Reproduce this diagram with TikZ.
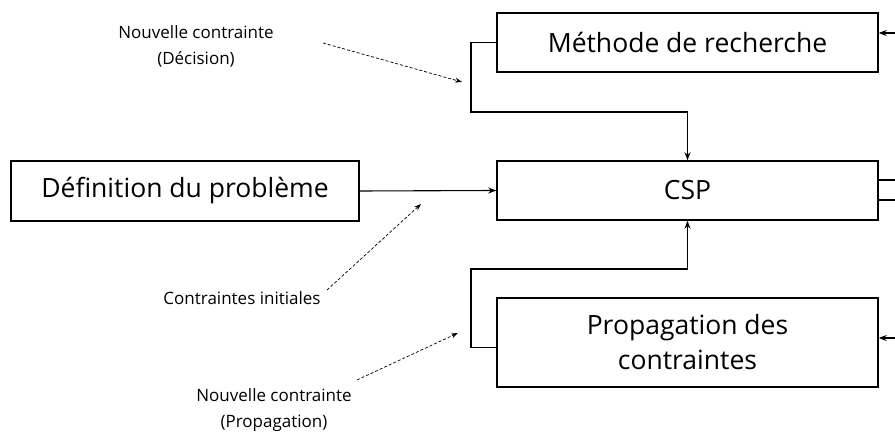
\documentclass[tikz,border=0pt]{standalone}
\usepackage{fontspec}
\setmainfont{Open Sans}
\usetikzlibrary{arrows.meta}
\begin{document}
\begin{tikzpicture}[x=1pt,y=-1pt,
  box/.style={draw,line width=1.5pt,inner sep=0pt,align=center,font=\fontsize{26.5}{35}\selectfont},
  conn/.style={line width=1.1pt},
  arr/.style={conn,-{Stealth[length=8pt,width=6pt]}},
  darr/.style={line width=0.7pt,dash pattern=on 3pt off 2pt,-{Stealth[length=7pt,width=5pt]}},
  lab/.style={align=center,inner sep=0pt,font=\fontsize{17}{26}\selectfont}]
\useasboundingbox (0,0) rectangle (895,435);
\node[box,minimum width=381pt,minimum height=59pt] (meth) at (687.5,42.5) {Méthode de recherche};
\node[box,minimum width=381pt,minimum height=59pt] (csp) at (687.5,190.5) {CSP};
\node[box,minimum width=381pt,minimum height=89pt] (prop) at (687.5,342.5) {Propagation des\\contraintes};
\node[box,minimum width=348pt,minimum height=60pt] (def) at (185,191) {Définition du problème};
% loops
\coordinate (k1) at (471,112);
\coordinate (k2) at (471,269);
\draw[arr] (meth.west) -| (k1) -| (csp.north);
\draw[arr] ([yshift=-5pt]prop.west) -| (k2) -| (csp.south);
\draw[arr] (def.east) -- (csp.west);
% right side
\coordinate (r1) at (895,33);
\coordinate (r2) at (895,180);
\coordinate (r3) at (895,200);
\coordinate (r4) at (895,338);
\draw[arr] (r1) -- (r1 -| meth.east);
\draw[conn] (csp.east |- r2) -- (r2);
\draw[conn] (csp.east |- r3) -- (r3);
\draw[arr] (r4) -- (r4 -| prop.east);
% labels
\node[lab] (ldec) at (196,46) {Nouvelle contrainte\\(Décision)};
\node[lab] (lini) at (242,298) {Contraintes initiales};
\node[lab] (lprop) at (274,410) {Nouvelle contrainte\\(Propagation)};
\coordinate (a1) at (323,43);
\coordinate (b1) at (462,82);
\coordinate (a2) at (327,290);
\coordinate (b2) at (421,204);
\coordinate (a3) at (357,380);
\coordinate (b3) at (458,333);
\draw[darr] (a1) -- (b1);
\draw[darr] (a2) -- (b2);
\draw[darr] (a3) -- (b3);
\end{tikzpicture}
\end{document}
